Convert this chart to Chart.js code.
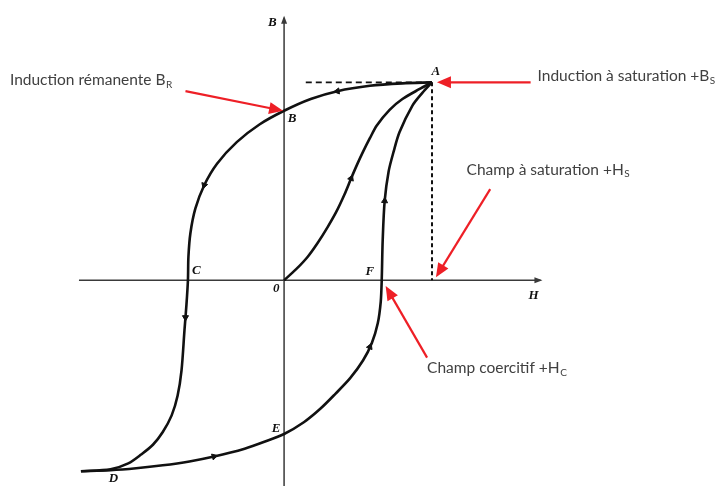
<!DOCTYPE html>
<html>
<head>
<meta charset="utf-8">
<script src="https://cdn.jsdelivr.net/npm/chart.js@4.4.0/dist/chart.umd.min.js"></script>
<style>
  html, body { margin: 0; padding: 0; background: #fff; }
  #wrap { width: 723px; height: 486px; }
</style>
</head>
<body>
<div id="wrap"><canvas id="loop"></canvas></div>
<script>
// Hysteresis loop, values (origin at O).
// Saturation point A = (Hs, Bs).
const satH = 150;
const satB = 202;

// first magnetisation curve O -> A
const firstH = [0, 12, 24, 34, 44, 53, 61, 68, 74, 80, 87, 94, 107, 120, 137, 150];
const firstB = [0, 11, 24, 38, 54, 70, 87, 104, 118, 131, 145, 158, 174, 185, 195, 202];

// descending branch A -> B -> C -> D
const descH = [150, 120, 87, 54, 27, 0, -25, -48, -68, -81, -90, -95, -97, -97.5, -99, -101, -104, -108, -114, -123, -133, -145, -158, -176, -206];
const descB = [202, 201, 198.5, 193, 185, 173, 159, 141, 119, 97, 73, 48, 24, 0, -25, -51, -92, -118, -138, -155, -168, -178, -187, -193, -195];

// ascending branch D -> E -> F -> A
const ascH = [-206, -176, -150, -123, -96, -71, -40, -20, 0, 20, 37, 52, 67, 80, 89, 95, 98, 99, 100, 102, 106, 111, 117, 130, 140, 150];
const ascB = [-195, -194, -192, -189, -185, -180, -172, -165, -157, -145, -131, -116, -100, -82, -64, -44, -22, 0, 41, 81, 111, 131, 151, 178, 191, 202];

// little direction marks sitting on the curves
const markH = [54, -81, -100, -71, 87, 102, 68];
const markB = [193, 97, -38, -180, -68, 81, 104];
const markAngle = [262, 198, 180, 74, 22, 4, 22];

// named points
const pointNames = ["A", "B", "C", "E", "F", "D", "0"];
const pointH = [154, 8, -89, -8, 87, -173, -8];
const pointB = [213, 165, 10, -152, 9, -203, -9];

// callouts: text, where the text starts, and where the red arrow points
const noteText = ["Induction rémanente B", "Induction à saturation +B", "Champ à saturation +H", "Champ coercitif +H"];
const noteSub = ["R", "S", "S", "C"];
const noteH = [-278, 257, 185, 145];
const noteB = [204, 208, 113, -90];
const arrowFromH = [-100, 250, 209, 145];
const arrowFromB = [193, 202, 93, -79];
const arrowToH = [-1, 155, 154, 103];
const arrowToB = [173, 202, 3, -6];

const zip = (xs, ys) => xs.map((x, i) => ({ x, y: ys[i] }));

const RED = "#ee1f26";
const INK = "#111";

function arrowHead(ctx, x0, y0, x1, y1, len, half) {
  const a = Math.atan2(y1 - y0, x1 - x0);
  ctx.beginPath();
  ctx.moveTo(x1, y1);
  ctx.lineTo(x1 - len * Math.cos(a) + half * Math.sin(a), y1 - len * Math.sin(a) - half * Math.cos(a));
  ctx.lineTo(x1 - len * Math.cos(a) - half * Math.sin(a), y1 - len * Math.sin(a) + half * Math.cos(a));
  ctx.closePath();
  ctx.fill();
}

// axes go under the curves
const axesPlugin = {
  id: "axes",
  beforeDatasetsDraw(chart) {
    const { ctx, scales: { x, y } } = chart;
    const x0 = x.getPixelForValue(0);
    const y0 = y.getPixelForValue(0);
    ctx.save();
    ctx.strokeStyle = "#3a3a3a";
    ctx.fillStyle = "#3a3a3a";
    ctx.lineWidth = 1.5;
    ctx.beginPath();
    ctx.moveTo(x.getPixelForValue(-208), y0);
    ctx.lineTo(x.getPixelForValue(260), y0);
    ctx.moveTo(x0, y.getPixelForValue(-210));
    ctx.lineTo(x0, y.getPixelForValue(268));
    ctx.stroke();
    arrowHead(ctx, x0, y0, x.getPixelForValue(262), y0, 8, 3);
    arrowHead(ctx, x0, y0, x0, y.getPixelForValue(270), 8, 3);
    ctx.restore();
  },
};

// letters, callout text and red arrows on top
const notesPlugin = {
  id: "notes",
  afterDatasetsDraw(chart) {
    const { ctx, scales: { x, y } } = chart;
    ctx.save();

    ctx.fillStyle = INK;
    ctx.textAlign = "center";
    ctx.textBaseline = "middle";
    ctx.font = "italic bold 13px 'Liberation Serif'";
    pointNames.forEach((name, i) => {
      ctx.fillText(name, x.getPixelForValue(pointH[i]), y.getPixelForValue(pointB[i]));
    });
    ctx.fillText("H", x.getPixelForValue(253), y.getPixelForValue(-16));
    ctx.fillText("B", x.getPixelForValue(-12), y.getPixelForValue(263));

    ctx.textAlign = "left";
    noteText.forEach((t, i) => {
      const px = x.getPixelForValue(noteH[i]);
      const py = y.getPixelForValue(noteB[i]);
      ctx.fillStyle = "#404040";
      ctx.font = "15.5px Lato";
      ctx.fillText(t, px, py);
      const w = ctx.measureText(t).width;
      ctx.font = "10px Lato";
      ctx.fillText(noteSub[i], px + w + 0.5, py + 4);
    });

    ctx.strokeStyle = RED;
    ctx.fillStyle = RED;
    ctx.lineWidth = 2.2;
    arrowFromH.forEach((h, i) => {
      const xa = x.getPixelForValue(h);
      const ya = y.getPixelForValue(arrowFromB[i]);
      const xb = x.getPixelForValue(arrowToH[i]);
      const yb = y.getPixelForValue(arrowToB[i]);
      const a = Math.atan2(yb - ya, xb - xa);
      ctx.beginPath();
      ctx.moveTo(xa, ya);
      ctx.lineTo(xb - 9 * Math.cos(a), yb - 9 * Math.sin(a));
      ctx.stroke();
      arrowHead(ctx, xa, ya, xb, yb, 14, 6);
    });
    ctx.restore();
  },
};

const curve = (data) => ({
  data,
  showLine: true,
  borderColor: INK,
  borderWidth: 2.6,
  tension: 0.3,
  pointRadius: 0,
});

new Chart(document.getElementById("loop"), {
  type: "scatter",
  plugins: [axesPlugin, notesPlugin],
  data: {
    datasets: [
      {
        data: [{ x: 22, y: satB }, { x: satH, y: satB }],
        showLine: true,
        borderColor: INK,
        borderWidth: 1.6,
        borderDash: [6, 4],
        pointRadius: 0,
      },
      {
        data: [{ x: satH, y: satB }, { x: satH, y: 0 }],
        showLine: true,
        borderColor: INK,
        borderWidth: 2,
        borderDash: [4, 3],
        pointRadius: 0,
      },
      curve(zip(firstH, firstB)),
      curve(zip(descH, descB)),
      curve(zip(ascH, ascB)),
      {
        data: zip(markH, markB),
        showLine: false,
        pointStyle: "triangle",
        pointRadius: 3.5,
        rotation: markAngle,
        backgroundColor: INK,
        borderColor: INK,
        borderWidth: 1,
      },
    ],
  },
  options: {
    animation: false,
    responsive: true,
    maintainAspectRatio: false,
    layout: { padding: 0 },
    plugins: {
      legend: { display: false },
      tooltip: { enabled: false },
    },
    scales: {
      x: { type: "linear", min: -283, max: 440, display: false },
      y: { type: "linear", min: -205, max: 281, display: false },
    },
  },
});
</script>
</body>
</html>
